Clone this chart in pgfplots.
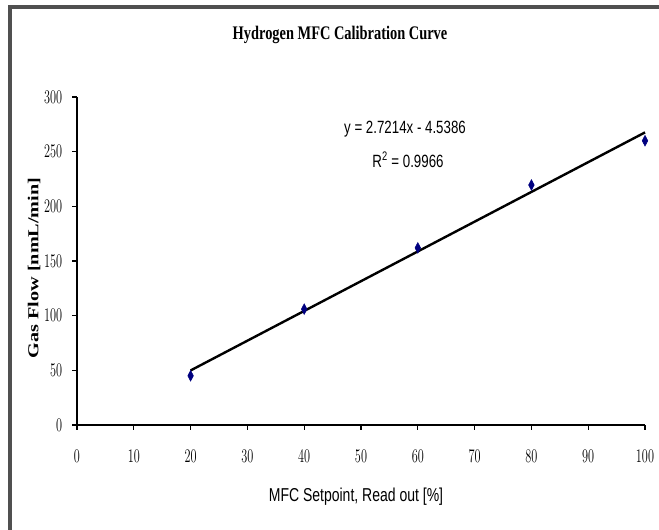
\documentclass[border=0pt]{standalone}
\usepackage{fontspec}
\setmainfont{Liberation Serif}
\newfontfamily\arial{Liberation Sans}
\usepackage{pgfplots}
\pgfplotsset{compat=1.18}
\definecolor{markblue}{HTML}{000080}
\definecolor{framegray}{HTML}{505050}
% the chart looks squeezed sideways, so text is narrowed
\newcommand{\narrow}[1]{\scalebox{0.75}[1]{#1}}
\newcommand{\ticknarrow}[1]{\scalebox{0.64}[1]{#1}}

\begin{document}
\begin{tikzpicture}
\useasboundingbox (0pt,0pt) rectangle (494.25pt,397.5pt);
\draw[framegray, line width=2.5pt] (7.5pt,-2pt) -- (7.5pt,392.25pt) -- (500pt,392.25pt);
\node[font=\bfseries\fontsize{14.4}{16}\selectfont] at (255pt,371.25pt) {\narrow{Hydrogen MFC Calibration Curve}};

\begin{axis}[
  at={(57.75pt,78.75pt)}, anchor=south west,
  scale only axis, width=426pt, height=246pt,
  xmin=0, xmax=100, ymin=0, ymax=300,
  axis x line=bottom, axis y line=left,
  axis line style={-, line width=1pt},
  xtick={0,10,...,100}, ytick={0,50,...,300},
  tick align=outside, major tick length=3.5pt,
  tick style={black, line width=0.8pt},
  xticklabel={\ticknarrow{\pgfmathprintnumber{\tick}}},
  yticklabel={\ticknarrow{\pgfmathprintnumber{\tick}}},
  tick label style={font=\fontsize{14}{16}\selectfont},
  xticklabel style={anchor=north, inner sep=0pt, yshift=-15.5pt},
  yticklabel style={anchor=east, inner sep=0pt, xshift=-7.5pt},
  clip=false,
]
% trendline from the fitted equation
\addplot[black, line width=1.8pt, no marks] coordinates {(20,49.89) (100,267.60)};
\addplot[only marks, mark=diamond*, mark size=4pt, color=markblue,
  mark options={xscale=0.7}] coordinates {
  (20,45)
  (40,106)
  (60,162)
  (80,219.5)
  (100,260)};
\end{axis}

\node[rotate=90, font=\bfseries\fontsize{11.4}{13}\selectfont] at (25.5pt,196.5pt) {\scalebox{1.33}[1]{Gas Flow [nmL/min]}};
\node[font=\arial\fontsize{14}{16}\selectfont] at (267pt,24.75pt) {\narrow{MFC Setpoint, Read out [\%]}};
\node[font=\arial\fontsize{13.3}{15}\selectfont] at (303.75pt,300.75pt) {\narrow{y = 2.7214x - 4.5386}};
\node[font=\arial\fontsize{13.3}{15}\selectfont] at (306pt,277.5pt) {\narrow{R\textsuperscript{2} = 0.9966}};
\end{tikzpicture}
\end{document}
